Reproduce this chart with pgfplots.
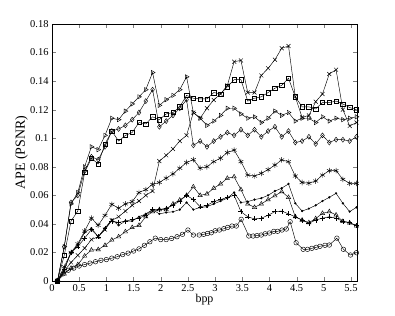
\documentclass[border=0pt]{standalone}
\usepackage{fontspec}
\setmainfont{Liberation Serif}
\usepackage{pgfplots}
\pgfplotsset{compat=1.18}
\begin{document}
\fontsize{10}{12}\selectfont
\begin{tikzpicture}
\path[use as bounding box] (0,0) rectangle (395bp,316bp);
\begin{axis}[
  at={(52bp,35bp)}, anchor=south west, scale only axis,
  width=305bp, height=257bp,
  xmin=0, xmax=5.61, ymin=0, ymax=0.18,
  xtick={0,0.5,...,5.5}, ytick={0,0.02,...,0.18},
  scaled x ticks=false, scaled y ticks=false,
  xticklabels={0,0.5,1,1.5,2,2.5,3,3.5,4,4.5,5,5.5},
  yticklabels={0,0.02,0.04,0.06,0.08,0.1,0.12,0.14,0.16,0.18},
  tick align=inside, major tick length=4bp,
  xtick pos=both, ytick pos=both,
  /pgf/number format/assume math mode=true,
  ticklabel style={font=\fontsize{10.5}{12}\selectfont},
  xlabel={bpp}, ylabel={APE (PSNR)},
  xlabel style={font=\fontsize{12}{14}\selectfont, at={(axis description cs:0.5,-0.074)},anchor=center},
  ylabel style={font=\fontsize{14}{16}\selectfont, at={(axis description cs:-0.1,0.5)},anchor=center},
  axis line style={line width=0.6pt},
  every axis plot/.append style={black, line width=0.45pt, mark size=2.5pt, mark options={solid, fill=white, line width=0.45pt}},
  clip=false,
]
% triangle-right series
\addplot[mark=triangle, mark options={rotate=-90}] coordinates {
(0.1,0) (0.225,0.024) (0.35,0.054) (0.475,0.062) (0.6,0.080) (0.725,0.094) (0.85,0.092) (0.975,0.102) (1.1,0.114) (1.225,0.113) (1.35,0.119) (1.475,0.124) (1.6,0.129) (1.725,0.134) (1.85,0.146) (1.975,0.123) (2.1,0.127) (2.225,0.130) (2.35,0.134) (2.475,0.143) (2.6,0.118) (2.725,0.114) (2.85,0.109) (2.975,0.112) (3.1,0.116) (3.225,0.121) (3.35,0.121) (3.475,0.117) (3.6,0.114) (3.725,0.115) (3.85,0.111) (3.975,0.114) (4.1,0.119) (4.225,0.116) (4.35,0.118) (4.475,0.112) (4.6,0.114) (4.725,0.114) (4.85,0.111) (4.975,0.115) (5.1,0.112) (5.225,0.114) (5.35,0.113) (5.475,0.114) (5.6,0.115)};
% diamond series
\addplot[mark=diamond] coordinates {
(0.1,0) (0.225,0.024) (0.35,0.055) (0.475,0.060) (0.6,0.077) (0.725,0.087) (0.85,0.085) (0.975,0.094) (1.1,0.105) (1.225,0.1065) (1.35,0.109) (1.475,0.113) (1.6,0.118) (1.725,0.126) (1.85,0.134) (1.975,0.108) (2.1,0.112) (2.225,0.116) (2.35,0.121) (2.475,0.127) (2.6,0.095) (2.725,0.098) (2.85,0.094) (2.975,0.098) (3.1,0.101) (3.225,0.104) (3.35,0.102) (3.475,0.106) (3.6,0.102) (3.725,0.106) (3.85,0.101) (3.975,0.105) (4.1,0.108) (4.225,0.101) (4.35,0.105) (4.475,0.097) (4.6,0.098) (4.725,0.101) (4.85,0.096) (4.975,0.102) (5.1,0.097) (5.225,0.099) (5.35,0.099) (5.475,0.098) (5.6,0.101)};
% square series
\addplot[mark=square, mark size=2.2pt] coordinates {
(0.1,0) (0.225,0.018) (0.35,0.042) (0.475,0.049) (0.6,0.076) (0.725,0.086) (0.85,0.082) (0.975,0.096) (1.1,0.105) (1.225,0.098) (1.35,0.102) (1.475,0.104) (1.6,0.111) (1.725,0.110) (1.85,0.115) (1.975,0.113) (2.1,0.117) (2.225,0.118) (2.35,0.122) (2.475,0.130) (2.6,0.128) (2.725,0.1275) (2.85,0.1275) (2.975,0.132) (3.1,0.131) (3.225,0.136) (3.35,0.141) (3.475,0.141) (3.6,0.126) (3.725,0.128) (3.85,0.129) (3.975,0.132) (4.1,0.135) (4.225,0.137) (4.35,0.142) (4.475,0.129) (4.6,0.122) (4.725,0.122) (4.85,0.1205) (4.975,0.125) (5.1,0.125) (5.225,0.126) (5.35,0.124) (5.475,0.1215) (5.6,0.120)};
% cross series
\addplot[mark=x, mark size=2.8pt] coordinates {
(0.1,0) (0.225,0.007) (0.35,0.013) (0.475,0.018) (0.6,0.023) (0.725,0.029) (0.85,0.031) (0.975,0.036) (1.1,0.0425) (1.225,0.045) (1.35,0.049) (1.475,0.053) (1.6,0.056) (1.725,0.060) (1.85,0.063) (1.975,0.084) (2.1,0.088) (2.225,0.0925) (2.35,0.098) (2.475,0.102) (2.6,0.118) (2.725,0.114) (2.85,0.121) (2.975,0.1268) (3.1,0.131) (3.225,0.137) (3.35,0.1536) (3.475,0.1545) (3.6,0.132) (3.725,0.132) (3.85,0.144) (3.975,0.149) (4.1,0.155) (4.225,0.163) (4.35,0.1646) (4.475,0.129) (4.6,0.1146) (4.725,0.116) (4.85,0.1256) (4.975,0.131) (5.1,0.145) (5.225,0.148) (5.35,0.120) (5.475,0.1086) (5.6,0.111)};
% asterisk series
\addplot[mark=asterisk, mark size=2.8pt] coordinates {
(0.1,0) (0.225,0.010) (0.35,0.020) (0.475,0.026) (0.6,0.035) (0.725,0.044) (0.85,0.039) (0.975,0.046) (1.1,0.0537) (1.225,0.051) (1.35,0.054) (1.475,0.0556) (1.6,0.062) (1.725,0.064) (1.85,0.0677) (1.975,0.069) (2.1,0.072) (2.225,0.075) (2.35,0.079) (2.475,0.083) (2.6,0.085) (2.725,0.079) (2.85,0.080) (2.975,0.0836) (3.1,0.086) (3.225,0.090) (3.35,0.0917) (3.475,0.0836) (3.6,0.0742) (3.725,0.0735) (3.85,0.0754) (3.975,0.078) (4.1,0.0812) (4.225,0.0848) (4.35,0.0836) (4.475,0.0735) (4.6,0.069) (4.725,0.0685) (4.85,0.070) (4.975,0.0742) (5.1,0.0773) (5.225,0.0773) (5.35,0.0712) (5.475,0.0684) (5.6,0.0684)};
% triangle-up series
\addplot[mark=triangle] coordinates {
(0.1,0) (0.225,0.005) (0.35,0.009) (0.475,0.0115) (0.6,0.0175) (0.725,0.0217) (0.85,0.022) (0.975,0.025) (1.1,0.0287) (1.225,0.031) (1.35,0.0345) (1.475,0.0375) (1.6,0.039) (1.725,0.045) (1.85,0.0486) (1.975,0.050) (2.1,0.050) (2.225,0.054) (2.35,0.0567) (2.475,0.060) (2.6,0.066) (2.725,0.060) (2.85,0.061) (2.975,0.065) (3.1,0.068) (3.225,0.072) (3.35,0.073) (3.475,0.064) (3.6,0.054) (3.725,0.0516) (3.85,0.054) (3.975,0.057) (4.1,0.0597) (4.225,0.0626) (4.35,0.0586) (4.475,0.045) (4.6,0.0427) (4.725,0.0409) (4.85,0.0437) (4.975,0.0474) (5.1,0.0486) (5.225,0.0463) (5.35,0.0418) (5.475,0.0407) (5.6,0.0385)};
% dot series
\addplot[mark=*, mark size=0.9pt, mark options={fill=black}] coordinates {
(0.1,0) (0.225,0.008) (0.35,0.020) (0.475,0.025) (0.6,0.034) (0.725,0.037) (0.85,0.031) (0.975,0.037) (1.1,0.043) (1.225,0.039) (1.35,0.042) (1.475,0.042) (1.6,0.045) (1.725,0.047) (1.85,0.050) (1.975,0.047) (2.1,0.048) (2.225,0.0485) (2.35,0.050) (2.475,0.055) (2.6,0.050) (2.725,0.0515) (2.85,0.052) (2.975,0.054) (3.1,0.056) (3.225,0.058) (3.35,0.062) (3.475,0.055) (3.6,0.0556) (3.725,0.057) (3.85,0.058) (3.975,0.060) (4.1,0.063) (4.225,0.065) (4.35,0.068) (4.475,0.0544) (4.6,0.049) (4.725,0.0507) (4.85,0.053) (4.975,0.056) (5.1,0.0586) (5.225,0.0614) (5.35,0.0544) (5.475,0.0486) (5.6,0.0516)};
% plus series
\addplot[mark=+, mark size=2.5pt, mark options={line width=0.35pt}] coordinates {
(0.1,0) (0.225,0.008) (0.35,0.020) (0.475,0.024) (0.6,0.030) (0.725,0.036) (0.85,0.031) (0.975,0.037) (1.1,0.042) (1.225,0.041) (1.35,0.042) (1.475,0.043) (1.6,0.044) (1.725,0.046) (1.85,0.050) (1.975,0.050) (2.1,0.051) (2.225,0.053) (2.35,0.056) (2.475,0.060) (2.6,0.057) (2.725,0.052) (2.85,0.053) (2.975,0.0556) (3.1,0.057) (3.225,0.0586) (3.35,0.060) (3.475,0.0486) (3.6,0.045) (3.725,0.0435) (3.85,0.044) (3.975,0.046) (4.1,0.0486) (4.225,0.049) (4.35,0.047) (4.475,0.045) (4.6,0.0427) (4.725,0.0404) (4.85,0.0427) (4.975,0.044) (5.1,0.045) (5.225,0.044) (5.35,0.0418) (5.475,0.041) (5.6,0.0388)};
% circle series
\addplot[mark=o, mark size=2.3pt] coordinates {
(0.1,0) (0.2,0.005) (0.3,0.0075) (0.4,0.009) (0.5,0.0105) (0.6,0.0115) (0.7,0.0125) (0.8,0.0135) (0.9,0.0145) (1.0,0.015) (1.1,0.016) (1.2,0.017) (1.3,0.0185) (1.4,0.0195) (1.5,0.021) (1.6,0.0225) (1.7,0.025) (1.8,0.0275) (1.9,0.030) (2.0,0.029) (2.1,0.029) (2.2,0.0298) (2.3,0.031) (2.4,0.0327) (2.5,0.0357) (2.6,0.0322) (2.71,0.0322) (2.79,0.0327) (2.86,0.0333) (2.93,0.0338) (3.0,0.0352) (3.08,0.0357) (3.16,0.0366) (3.23,0.0375) (3.31,0.0385) (3.39,0.0385) (3.48,0.0432) (3.62,0.0315) (3.7,0.0315) (3.77,0.0318) (3.85,0.0322) (3.92,0.0331) (4.0,0.0336) (4.08,0.0348) (4.15,0.0348) (4.23,0.0357) (4.31,0.0364) (4.38,0.0415) (4.49,0.0268) (4.62,0.0222) (4.7,0.0222) (4.78,0.0229) (4.86,0.0236) (4.93,0.0243) (5.02,0.0250) (5.1,0.0252) (5.24,0.030) (5.36,0.0222) (5.49,0.0182) (5.6,0.0198)};
\addplot[only marks, mark=*, mark size=2.5pt, mark options={fill=black}] coordinates {(0.1,0)};
\end{axis}
\end{tikzpicture}
\end{document}
